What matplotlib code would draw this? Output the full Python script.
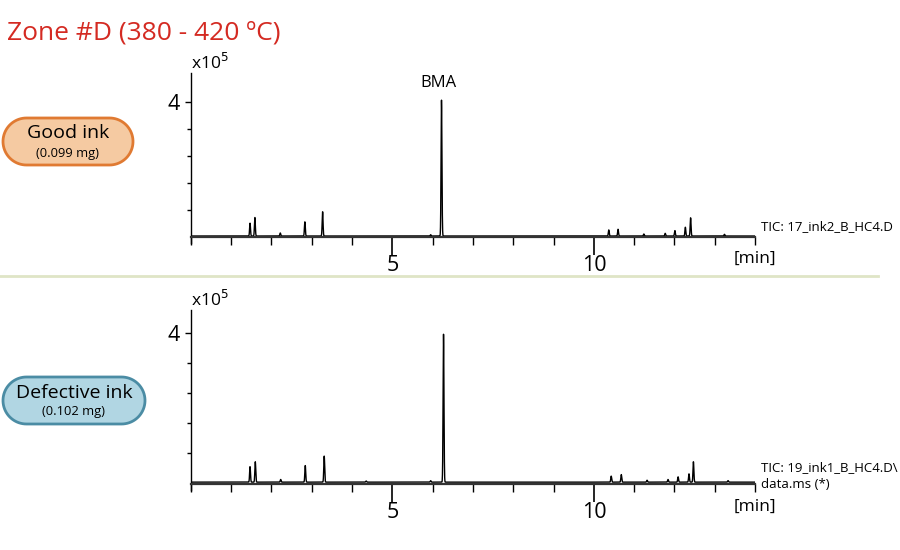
import numpy as np
import matplotlib.pyplot as plt
from matplotlib.patches import Polygon
from matplotlib.ticker import MultipleLocator, FixedLocator

plt.rcParams['font.family'] = ['Open Sans', 'DejaVu Sans']

# peak retention times (min) and heights (x1e5)
good_times = [1.47, 1.59, 2.22, 2.83, 3.27, 5.95, 6.22, 10.37, 10.60, 11.24, 11.77, 12.01, 12.27, 12.40, 13.24]
good_heights = [0.38, 0.55, 0.09, 0.42, 0.72, 0.04, 4.03, 0.18, 0.20, 0.06, 0.08, 0.16, 0.26, 0.54, 0.05]
bad_times = [1.47, 1.60, 2.23, 2.84, 3.31, 4.35, 5.95, 6.27, 10.43, 10.68, 11.32, 11.84, 12.09, 12.36, 12.47, 13.33]
bad_heights = [0.41, 0.54, 0.07, 0.44, 0.69, 0.03, 0.04, 3.93, 0.16, 0.20, 0.05, 0.07, 0.14, 0.22, 0.54, 0.04]
good_base = 0.03
bad_base = 0.04

title = "Zone #D (380 - 420 ºC)"
tic_good = "TIC: 17_ink2_B_HC4.D"
tic_bad = "TIC: 19_ink1_B_HC4.D\\\ndata.ms (*)"


def trace(times, heights, base):
    t = np.linspace(0, 14, 8000)
    y = np.full_like(t, base)
    for tt, hh in zip(times, heights):
        y += hh * np.exp(-0.5 * ((t - tt) / 0.011) ** 2)
    return t, y


def pill(x0, y0, w, h, fc, ec):
    # stadium shape in pixel coords (y grows downward)
    r = h / 2
    a = np.linspace(-np.pi / 2, np.pi / 2, 40)
    right = np.column_stack([x0 + w - r + r * np.cos(a), y0 + r + r * np.sin(a)])
    left = np.column_stack([x0 + r - r * np.cos(a), y0 + r - r * np.sin(a)])
    return Polygon(np.vstack([right, left]), closed=True, fc=fc, ec=ec, lw=2)


fig = plt.figure(figsize=(9, 5.5), dpi=100)

# overlay in pixel coords for the decorations
ov = fig.add_axes([0, 0, 1, 1])
ov.set_xlim(0, 900)
ov.set_ylim(550, 0)
ov.axis('off')

ov.text(7, 33, title, color='#d42a22', fontsize=19, va='center', ha='left')
ov.plot([0, 878], [276, 276], color='#dfe5c6', lw=2)

ov.add_patch(pill(3, 118, 130, 47, '#f5caa2', '#e07a32'))
ov.text(68, 133, "Good ink", fontsize=14, ha='center', va='center')
ov.text(68, 153, "(0.099 mg)", fontsize=9.3, ha='center', va='center')

ov.add_patch(pill(3, 377, 142, 47, '#b1d6e3', '#4b8ca4'))
ov.text(74, 393, "Defective ink", fontsize=14, ha='center', va='center')
ov.text(74, 411, "(0.102 mg)", fontsize=9.3, ha='center', va='center')


def panel(rect, times, heights, base, ylim, tic_text, tic_y):
    ax = fig.add_axes(rect)
    ax.patch.set_alpha(0)
    t, y = trace(times, heights, base)
    ax.plot(t, y, color='black', lw=1.0)
    ax.set_xlim(0, 14)
    ax.set_ylim(*ylim)
    ax.spines['top'].set_visible(False)
    ax.spines['right'].set_visible(False)
    ax.spines['bottom'].set_position(('data', 0))
    ax.spines['bottom'].set_linewidth(1.6)
    ax.spines['bottom'].set_color('#333333')
    ax.spines['left'].set_linewidth(1.0)
    ax.xaxis.set_major_locator(FixedLocator([5, 10]))
    ax.xaxis.set_minor_locator(MultipleLocator(1))
    ax.set_xticklabels(['5', '10'])
    ax.tick_params(axis='x', which='major', length=13, width=1.2, labelsize=15.5, pad=0)
    ax.tick_params(axis='x', which='minor', length=6, width=1.0)
    ax.yaxis.set_major_locator(FixedLocator([4]))
    ax.yaxis.set_minor_locator(FixedLocator([0.8, 1.6, 2.4, 3.2]))
    ax.tick_params(axis='y', which='major', length=4, width=1.0, labelsize=15.5, pad=4)
    ax.tick_params(axis='y', which='minor', length=3, width=1.0)
    ax.text(0, ylim[1], r"x10$^5$", fontsize=12.5, ha='left', va='bottom',
            transform=ax.transData)
    ax.text(14.0, -0.4, "[min]", fontsize=12.5, ha='center', va='top')
    ax.text(14.15, tic_y, tic_text, fontsize=9.5, ha='left', va='center', linespacing=1.4)
    return ax


ax1 = panel([0.212, 0.558, 0.627, 0.309], good_times, good_heights, good_base,
            (-0.18, 4.86), tic_good, 0.3)
ax1.text(6.15, 4.33, "BMA", fontsize=12, ha='center', va='bottom')

ax2 = panel([0.212, 0.109, 0.627, 0.327], bad_times, bad_heights, bad_base,
            (-0.17, 4.6), tic_bad, 0.2)

fig.savefig('out.png', dpi=100)
